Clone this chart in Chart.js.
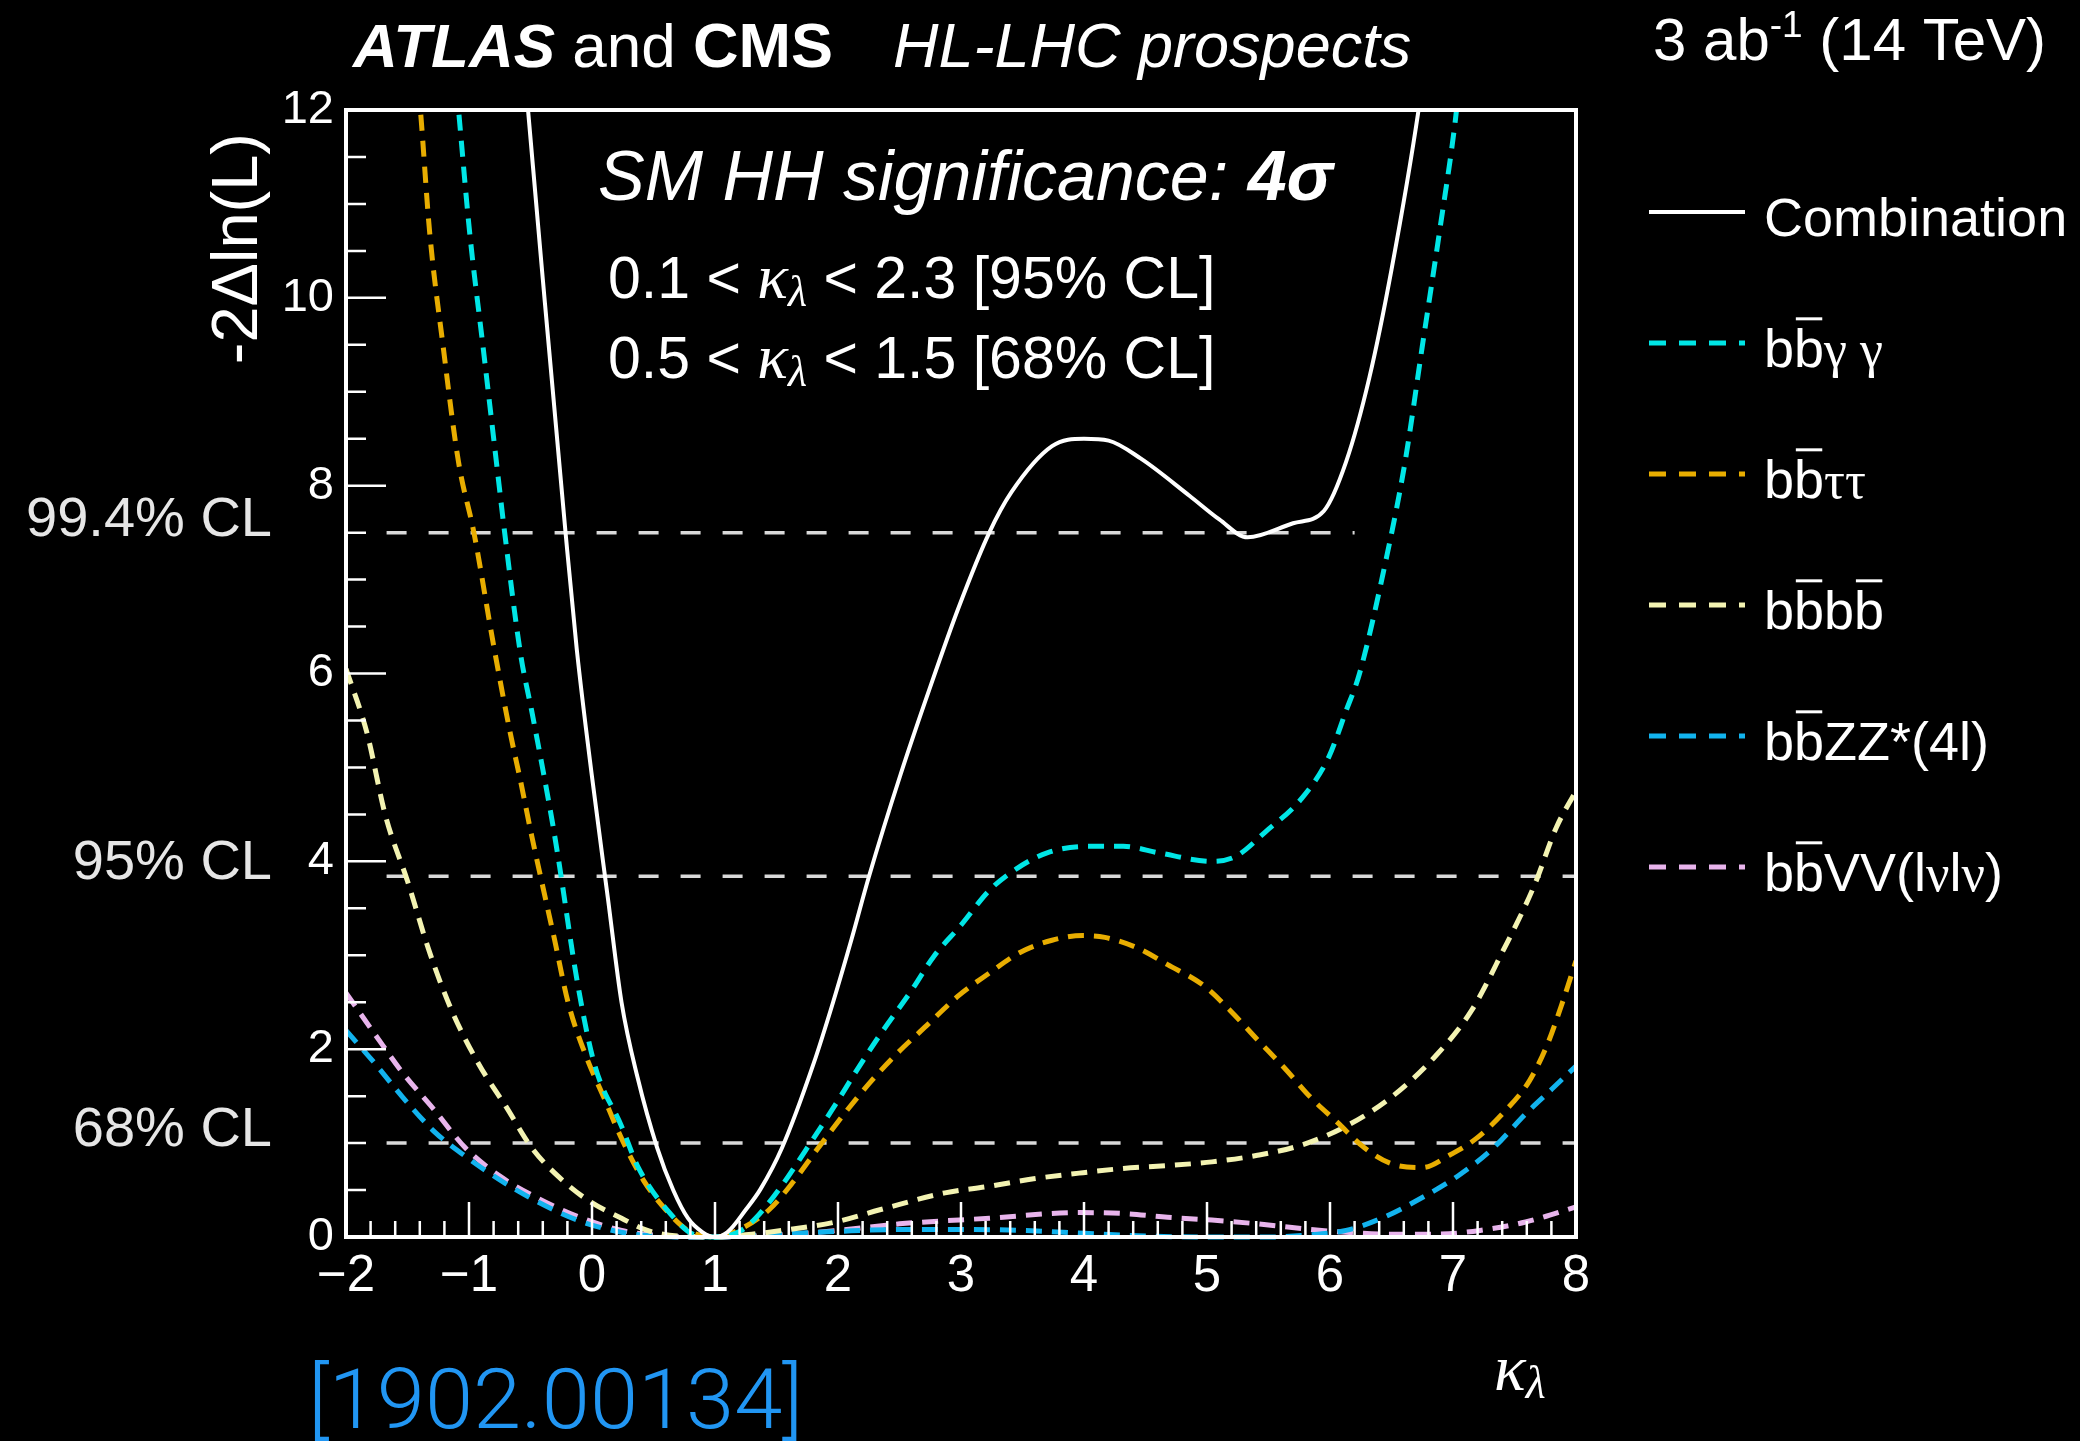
<!DOCTYPE html>
<html>
<head>
<meta charset="utf-8">
<script src="https://cdn.jsdelivr.net/npm/chart.js@4.4.1/dist/chart.umd.min.js"></script>
<style>
  html, body { margin: 0; padding: 0; background: #000; }
  #wrap { width: 2080px; height: 1441px; }
</style>
</head>
<body>
<div id="wrap"><canvas id="graph-viewer" width="2080" height="1441"></canvas></div>
<script>
// kappa_lambda scan values
const combKappa = [-0.56, -0.52, -0.4, -0.215, -0.124, 0.0, 0.13, 0.24, 0.37, 0.53, 0.66, 0.78, 0.9, 1.0, 1.1, 1.25, 1.37, 1.545, 1.8, 1.96, 2.11, 2.25, 2.51, 2.74, 2.98, 3.23, 3.41, 3.74, 4.0, 4.2, 4.46, 4.86, 5.1, 5.33, 5.7, 5.95, 6.13, 6.32, 6.5, 6.72, 6.76];
const combNll   = [12.6, 12.0, 10.2, 7.5, 6.26, 4.9, 3.6, 2.5, 1.7, 0.95, 0.5, 0.2, 0.05, 0, 0.05, 0.29, 0.51, 0.95, 1.84, 2.5, 3.17, 3.83, 4.93, 5.82, 6.7, 7.5, 7.93, 8.42, 8.5, 8.48, 8.29, 7.89, 7.64, 7.45, 7.6, 7.73, 8.25, 9.15, 10.3, 12.0, 12.4];

const yyKappa = [-1.12, -1.085, -0.995, -0.886, -0.777, -0.71, -0.58, -0.49, -0.4, -0.32, -0.27, -0.12, 0.02, 0.24, 0.38, 0.67, 0.82, 1.0, 1.2, 1.33, 1.55, 1.73, 1.95, 2.16, 2.34, 2.6, 2.78, 3.0, 3.23, 3.45, 3.7, 4.03, 4.32, 4.61, 5.04, 5.23, 5.48, 5.77, 5.99, 6.13, 6.24, 6.46, 6.61, 6.75, 6.89, 7.02, 7.06];
const yyNll   = [12.5, 12.0, 10.7, 9.48, 8.25, 7.5, 6.2, 5.6, 4.98, 4.4, 4.0, 2.72, 1.84, 1.18, 0.73, 0.2, 0.03, 0, 0.06, 0.2, 0.56, 0.91, 1.35, 1.79, 2.15, 2.63, 2.99, 3.32, 3.69, 3.92, 4.09, 4.16, 4.16, 4.09, 4.0, 4.05, 4.32, 4.67, 5.11, 5.6, 6.0, 7.24, 8.25, 9.48, 10.7, 11.9, 12.4];

const ttKappa = [-1.43, -1.395, -1.32, -1.21, -1.085, -0.96, -0.8, -0.67, -0.58, -0.49, -0.41, -0.305, -0.195, -0.05, 0.095, 0.24, 0.42, 0.6, 0.78, 1.0, 1.2, 1.44, 1.62, 1.84, 2.05, 2.27, 2.5, 2.72, 2.98, 3.23, 3.48, 3.74, 3.99, 4.17, 4.43, 4.68, 4.97, 5.19, 5.41, 5.63, 5.84, 6.06, 6.28, 6.5, 6.75, 6.97, 7.19, 7.4, 7.62, 7.77, 7.88, 8.0];
const ttNll   = [12.5, 12.0, 10.7, 9.48, 8.25, 7.5, 6.3, 5.4, 4.85, 4.27, 3.79, 3.17, 2.5, 1.93, 1.49, 1.05, 0.6, 0.29, 0.07, 0, 0.08, 0.29, 0.56, 0.95, 1.31, 1.66, 1.98, 2.25, 2.57, 2.81, 3.03, 3.16, 3.21, 3.19, 3.08, 2.9, 2.68, 2.41, 2.1, 1.8, 1.49, 1.22, 0.95, 0.78, 0.74, 0.87, 1.05, 1.31, 1.66, 2.06, 2.46, 2.94];

const bbKappa = [-2, -1.83, -1.68, -1.5, -1.32, -1.14, -0.92, -0.7, -0.49, -0.27, -0.02, 0.24, 0.45, 0.7, 1.0, 1.3, 1.6, 1.98, 2.34, 2.87, 3.23, 3.59, 3.96, 4.32, 4.68, 5.04, 5.41, 5.77, 6.13, 6.5, 6.86, 7.15, 7.4, 7.66, 7.84, 8.0];
const bbNll   = [6.05, 5.37, 4.49, 3.79, 3.03, 2.41, 1.84, 1.39, 0.95, 0.64, 0.38, 0.2, 0.07, 0.01, 0, 0.03, 0.08, 0.16, 0.29, 0.47, 0.54, 0.62, 0.68, 0.73, 0.76, 0.8, 0.87, 0.98, 1.18, 1.49, 1.93, 2.41, 3.03, 3.74, 4.36, 4.75];

const zzKappa = [-2, -1.76, -1.54, -1.28, -1.03, -0.74, -0.45, -0.12, 0.24, 0.5, 0.8, 1.0, 1.5, 2.0, 2.5, 3.0, 3.5, 4.0, 4.5, 5.0, 5.5, 5.9, 6.13, 6.42, 6.75, 7.04, 7.33, 7.59, 7.8, 8.0];
const zzNll   = [2.2, 1.84, 1.49, 1.12, 0.86, 0.6, 0.38, 0.18, 0.05, 0.01, 0, 0, 0.03, 0.06, 0.08, 0.08, 0.07, 0.04, 0.01, 0, 0, 0.03, 0.07, 0.2, 0.42, 0.65, 0.95, 1.31, 1.57, 1.82];

const vvKappa = [-2, -1.76, -1.54, -1.28, -1.03, -0.74, -0.45, -0.12, 0.24, 0.5, 0.8, 1.0, 1.5, 2.0, 2.5, 3.23, 3.96, 4.32, 4.68, 5.04, 5.41, 5.77, 6.13, 6.5, 6.86, 7.22, 7.59, 8.0];
const vvNll   = [2.6, 2.15, 1.75, 1.35, 0.95, 0.64, 0.42, 0.22, 0.07, 0.02, 0, 0, 0.02, 0.07, 0.14, 0.2, 0.26, 0.25, 0.21, 0.18, 0.14, 0.09, 0.05, 0.03, 0.03, 0.07, 0.16, 0.32];

// confidence-level reference lines
const clLevels = [1.0, 3.84, 7.5];
const clNames  = ['68% CL', '95% CL', '99.4% CL'];
const clStart  = -1.67;
const clEnd    = [8, 8, 6.2];

const xTickValues = [-2, -1, 0, 1, 2, 3, 4, 5, 6, 7, 8];
const yTickValues = [0, 2, 4, 6, 8, 10, 12];

const SANS = '"Liberation Sans", Arial, sans-serif';
const SERIF = '"Liberation Serif", "DejaVu Serif", serif';

const series = [
    { kappa: combKappa, nll: combNll, color: '#ffffff', dash: [], width: 4 },
    { kappa: yyKappa, nll: yyNll, color: '#00e6e6', dash: [16, 10], width: 5 },
    { kappa: ttKappa, nll: ttNll, color: '#e8ad00', dash: [16, 10], width: 5 },
    { kappa: bbKappa, nll: bbNll, color: '#f3f3b2', dash: [16, 10], width: 5 },
    { kappa: zzKappa, nll: zzNll, color: '#12b3ee', dash: [16, 10], width: 5 },
    { kappa: vvKappa, nll: vvNll, color: '#e8b4ec', dash: [16, 10], width: 5 }
];

// legend labels as text runs (bar = overline)
const bsans = (s) => ({ t: s, f: '54px ' + SANS });
const bbar = { t: 'b', f: '54px ' + SANS, bar: true };
const greek = (s) => ({ t: s, f: '52px ' + SERIF });
const legendRuns = [
    [bsans('Combination')],
    [bsans('b'), bbar, greek('γ γ')],
    [bsans('b'), bbar, greek('ττ')],
    [bsans('b'), bbar, bsans('b'), bbar],
    [bsans('b'), bbar, bsans('ZZ*(4l)')],
    [bsans('b'), bbar, bsans('VV(l'), greek('ν'), bsans('l'), greek('ν'), bsans(')')]
];

function pts(xs, ys) {
    return xs.map((x, i) => ({ x: x, y: ys[i] }));
}

function drawRich(ctx, parts, x, y) {
    parts.forEach(p => {
        ctx.font = p.f;
        const w = ctx.measureText(p.t).width;
        ctx.fillText(p.t, x, y + (p.dy || 0));
        if (p.bar) {
            const fs = parseFloat(p.f.match(/(\d+)px/)[1]);
            ctx.fillRect(x + w * 0.06, y - fs * 0.92, w * 0.88, 3);
        }
        x += w;
    });
    return x;
}

const datasets = series.map(s => ({
    data: pts(s.kappa, s.nll),
    borderColor: s.color,
    borderWidth: s.width,
    borderDash: s.dash,
    cubicInterpolationMode: 'monotone',
    pointRadius: 0,
    fill: false,
    clip: { left: 0, top: 0, right: 0, bottom: 4 }
}));

clLevels.forEach((lvl, i) => {
    datasets.push({
        data: [{ x: clStart, y: lvl }, { x: clEnd[i], y: lvl }],
        borderColor: '#d9d9d9',
        borderWidth: 3.5,
        borderDash: [20, 22],
        pointRadius: 0,
        fill: false
    });
});

const decor = {
    id: 'decor',
    beforeDraw(chart) {
        const ctx = chart.ctx;
        ctx.save();
        ctx.fillStyle = '#000';
        ctx.fillRect(0, 0, chart.width, chart.height);
        ctx.restore();
    },
    afterDatasetsDraw(chart) {
        const ctx = chart.ctx, a = chart.chartArea;
        const xs = chart.scales.x, ys = chart.scales.y;
        ctx.save();
        ctx.strokeStyle = '#fff';
        ctx.lineWidth = 2.5;
        ctx.beginPath();
        for (let i = 0; i <= 50; i++) {
            const px = xs.getPixelForValue(-2 + i * 0.2);
            ctx.moveTo(px, a.bottom);
            ctx.lineTo(px, a.bottom - (i % 5 === 0 ? 35 : 16));
        }
        for (let i = 0; i <= 24; i++) {
            const py = ys.getPixelForValue(i * 0.5);
            ctx.moveTo(a.left, py);
            ctx.lineTo(a.left + (i % 4 === 0 ? 40 : 20), py);
        }
        ctx.stroke();
        ctx.lineWidth = 4;
        ctx.strokeRect(a.left, a.top, a.right - a.left, a.bottom - a.top);
        ctx.restore();
    },
    afterDraw(chart) {
        const ctx = chart.ctx, ys = chart.scales.y;
        ctx.save();
        ctx.fillStyle = '#fff';
        ctx.textBaseline = 'alphabetic';
        ctx.textAlign = 'left';

        // header
        drawRich(ctx, [
            { t: 'ATLAS', f: 'italic bold 62px ' + SANS },
            { t: ' and ', f: '62px ' + SANS },
            { t: 'CMS', f: 'bold 63px ' + SANS }
        ], 353, 67);
        ctx.font = 'italic 63px ' + SANS;
        ctx.fillText('HL-LHC prospects', 893, 67);
        drawRich(ctx, [
            { t: '3 ab', f: '60px ' + SANS },
            { t: '-1', f: '37px ' + SANS, dy: -23 },
            { t: ' (14 TeV)', f: '60px ' + SANS }
        ], 1653, 60);

        // annotations
        drawRich(ctx, [
            { t: 'SM HH significance: ', f: 'italic 70px ' + SANS },
            { t: '4σ', f: 'italic bold 70px ' + SANS }
        ], 598, 200);
        [['0.1', '2.3', '95% CL', 298], ['0.5', '1.5', '68% CL', 378]].forEach(r => {
            drawRich(ctx, [
                { t: r[0] + ' < ', f: '59px ' + SANS },
                { t: 'κ', f: 'italic 64px ' + SERIF },
                { t: 'λ', f: 'italic 44px ' + SERIF, dy: 8 },
                { t: ' < ' + r[1] + ' [' + r[2] + ']', f: '59px ' + SANS }
            ], 608, r[3]);
        });

        // CL labels
        ctx.fillStyle = '#e6e6e6';
        ctx.font = '56px ' + SANS;
        ctx.textAlign = 'right';
        clLevels.forEach((lvl, i) => {
            ctx.fillText(clNames[i], 272, ys.getPixelForValue(lvl) + 3);
        });

        // axis titles
        ctx.fillStyle = '#fff';
        ctx.save();
        ctx.translate(257, 133);
        ctx.rotate(-Math.PI / 2);
        ctx.font = '65px ' + SANS;
        ctx.textAlign = 'right';
        ctx.fillText('-2Δln(L)', 0, 0);
        ctx.restore();
        ctx.textAlign = 'left';
        drawRich(ctx, [
            { t: 'κ', f: 'italic 66px ' + SERIF },
            { t: 'λ', f: 'italic 46px ' + SERIF, dy: 8 }
        ], 1494, 1390);

        // legend
        series.forEach((s, i) => {
            const ly = 212 + i * 131;
            ctx.strokeStyle = s.color;
            ctx.lineWidth = i === 0 ? 4 : 5;
            ctx.setLineDash(i === 0 ? [] : [17, 13]);
            ctx.beginPath();
            ctx.moveTo(1649, ly);
            ctx.lineTo(1745, ly);
            ctx.stroke();
            ctx.setLineDash([]);
            ctx.fillStyle = '#fff';
            drawRich(ctx, legendRuns[i], 1764, ly + 24);
        });

        // reference
        ctx.fillStyle = '#2196f3';
        ctx.font = '300 84px Roboto, ' + SANS;
        const w = ctx.measureText('[1902.00134]').width;
        ctx.save();
        ctx.translate(308, 1428);
        ctx.scale(495 / w, 1);
        ctx.fillText('[1902.00134]', 0, 0);
        ctx.restore();

        ctx.restore();
    }
};

document.addEventListener('DOMContentLoaded', function() {
    const ctx = document.getElementById('graph-viewer').getContext('2d');
    new Chart(ctx, {
        type: 'line',
        data: { datasets: datasets },
        options: {
            responsive: false,
            animation: false,
            devicePixelRatio: 1,
            layout: { padding: { left: 246, top: 110, right: 504, bottom: 114 } },
            plugins: { legend: { display: false }, tooltip: { enabled: false } },
            scales: {
                x: {
                    type: 'linear', min: -2, max: 8,
                    grid: { display: false, drawTicks: false },
                    border: { display: false },
                    afterBuildTicks: s => { s.ticks = xTickValues.map(v => ({ value: v })); },
                    afterFit: s => { s.height = 90; },
                    ticks: {
                        color: '#fff', padding: 9, maxRotation: 0, autoSkip: false,
                        font: { family: SANS, size: 51 },
                        callback: v => v < 0 ? '\u2212' + (-v) : String(v)
                    }
                },
                y: {
                    type: 'linear', min: 0, max: 12,
                    grid: { display: false, drawTicks: false },
                    border: { display: false },
                    afterBuildTicks: s => { s.ticks = yTickValues.map(v => ({ value: v })); },
                    afterFit: s => { s.width = 100; },
                    ticks: {
                        color: '#fff', padding: 12, autoSkip: false,
                        font: { family: SANS, size: 47 }
                    }
                }
            }
        },
        plugins: [decor]
    });
});
</script>
</body>
</html>
